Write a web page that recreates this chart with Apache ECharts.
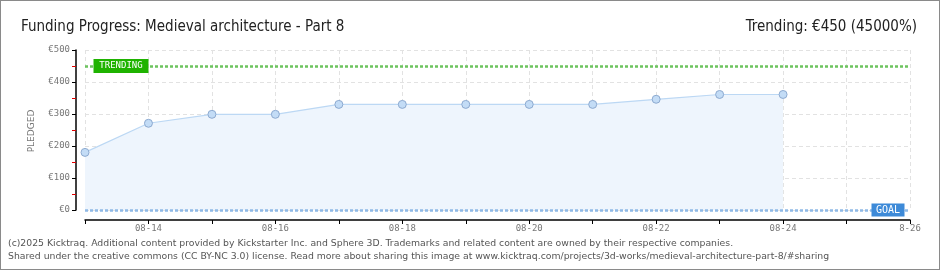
<!DOCTYPE html>
<html><head><meta charset="utf-8">
<script src="https://cdn.jsdelivr.net/npm/echarts@6/dist/echarts.min.js"></script>
<style>
html,body{margin:0;padding:0;background:#fff;}
#c{width:940px;height:270px;box-sizing:border-box;border:1px solid #8a8a8a;}
</style></head><body>
<div id="c"></div>
<script>
const categories = ['08-13','08-14','08-15','08-16','08-17','08-18','08-19','08-20','08-21','08-22','08-23','08-24','08-25','08-26'];
const pledged = [180, 271, 299, 299, 330, 330, 330, 330, 330, 346, 361, 361];
const yTicks = [0, 100, 200, 300, 400, 500];
const trendingValue = 450;
const goalValue = 0;
const titleText = 'Funding Progress: Medieval architecture - Part 8';
const trendText = 'Trending: €450 (45000%)';
const footer1 = '(c)2025 Kicktraq. Additional content provided by Kickstarter Inc. and Sphere 3D. Trademarks and related content are owned by their respective companies.';
const footer2 = 'Shared under the creative commons (CC BY-NC 3.0) license. Read more about sharing this image at www.kicktraq.com/projects/3d-works/medieval-architecture-part-8/#sharing';

const chart = echarts.init(document.getElementById('c'), null, {renderer:'canvas'});
const fontC = '"DejaVu Sans Condensed","Liberation Sans Narrow",sans-serif';
chart.setOption({
  animation:false,
  grid:{left:84, right:29, top:49, bottom:59},
  title:[
    {text:titleText, left:15, top:14, textStyle:{fontFamily:fontC, fontSize:15, fontWeight:'normal', color:'#222'}},
    {text:trendText, right:17, top:14, textStyle:{fontFamily:fontC, fontSize:15, fontWeight:'normal', color:'#222'}}
  ],
  graphic:[
    {type:'text', left:7, top:238, style:{text:footer1, font:'9.3px "DejaVu Sans", sans-serif', fill:'#555'}},
    {type:'text', left:7, top:251, style:{text:footer2, font:'9.3px "DejaVu Sans", sans-serif', fill:'#555'}},
    {type:'text', x:31, y:130, rotation:Math.PI/2, style:{text:'PLEDGED', font:'9px "DejaVu Sans", sans-serif', fill:'#777', align:'center', verticalAlign:'middle'}}
  ],
  xAxis:{
    type:'category', data:categories, boundaryGap:false, offset:10,
    axisLine:{onZero:false, lineStyle:{color:'#000', width:1.5}},
    axisTick:{show:true, length:4, inside:false, alignWithLabel:true, interval:0, lineStyle:{color:'#000'}},
    axisLabel:{interval:(i)=>i%2===1, color:'#777', fontSize:9, fontFamily:'"DejaVu Sans Mono",monospace', margin:4,
      formatter:(v,i)=> i===categories.length-1 ? v.slice(1) : v},
    splitLine:{show:true, interval:0, lineStyle:{color:'#e2e2e2', type:[4,3]}}
  },
  yAxis:{
    type:'value', min:0, max:500, interval:100, offset:9,
    axisLine:{show:true, lineStyle:{color:'#000', width:1.5}},
    axisTick:{show:true, length:4, lineStyle:{color:'#000'}},
    minorTick:{show:true, splitNumber:2, length:4, lineStyle:{color:'#e00000'}},
    axisLabel:{color:'#777', fontSize:9, fontFamily:'"DejaVu Sans Mono",monospace', margin:6, formatter:(v)=> yTicks.includes(v) ? '€'+v : ''},
    splitLine:{show:true, lineStyle:{color:'#e2e2e2', type:[4,3]}}
  },
  series:[{
    type:'line', data:pledged, symbol:'circle', symbolSize:8,
    lineStyle:{color:'#bcd8f4', width:1.2},
    itemStyle:{color:'#c3dcf6', borderColor:'#8daad0', borderWidth:1},
    areaStyle:{color:'#eef5fd', opacity:1},
    z:3,
    markLine:{
      silent:true, symbol:'none', animation:false, z:5,
      label:{show:false},
      data:[
        {yAxis:trendingValue, lineStyle:{color:'#6cc45e', type:[3,2], width:2.5}},
        {yAxis:goalValue, lineStyle:{color:'#8fb9e6', type:[3,2], width:2.5}}
      ]
    },
    markPoint:{
      silent:true, animation:false, z:6,
      data:[
        {coord:[0, trendingValue], symbol:'rect', symbolSize:[55,14], symbolOffset:[36,0],
          itemStyle:{color:'#1fb300', borderWidth:0},
          label:{show:true, formatter:'TRENDING', color:'#fff', fontSize:9, fontFamily:'"DejaVu Sans Mono",monospace'}},
        {coord:[categories.length-1, goalValue], symbol:'rect', symbolSize:[33,13], symbolOffset:[-22,0],
          itemStyle:{color:'#3d8ad8', borderWidth:0},
          label:{show:true, formatter:'GOAL', color:'#fff', fontSize:10, fontFamily:'"DejaVu Sans Mono",monospace'}}
      ]
    }
  }]
});
</script>
</body></html>
